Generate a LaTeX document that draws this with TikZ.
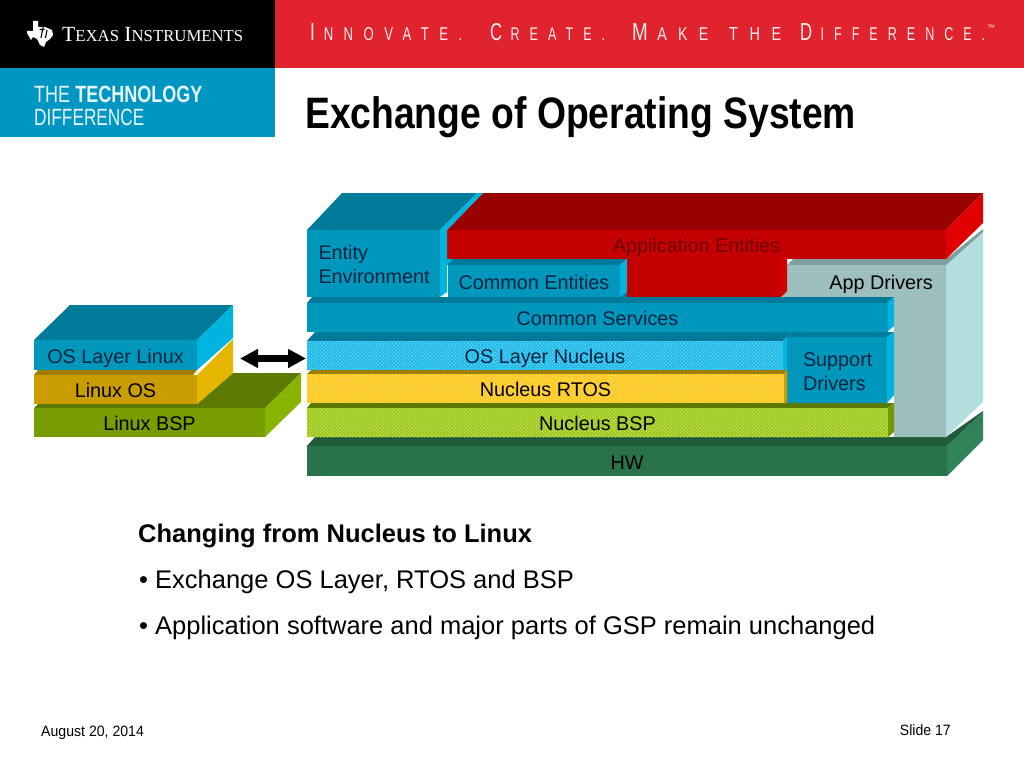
\documentclass[tikz,border=0pt]{standalone}
\usepackage{fontspec}
\usepackage{graphicx}
\setmainfont{Liberation Sans}
\newfontfamily\tiserif{Liberation Serif}
\newfontfamily\tagfont[LetterSpace=80]{Liberation Sans}
\usetikzlibrary{patterns,arrows.meta}
\pgfdeclarepatternformonly{bigdots}{\pgfqpoint{-1pt}{-1pt}}{\pgfqpoint{4.6pt}{4.6pt}}{\pgfqpoint{3.6pt}{3.6pt}}{%
  \pgfpathcircle{\pgfqpoint{0pt}{0pt}}{.85pt}\pgfpathcircle{\pgfqpoint{1.8pt}{1.8pt}}{.85pt}\pgfusepath{fill}}
\definecolor{tealF}{HTML}{0097BD}\definecolor{tealT}{HTML}{007A99}\definecolor{tealS}{HTML}{00B4E0}
\definecolor{redF}{HTML}{C40000}\definecolor{redT}{HTML}{990000}\definecolor{redS}{HTML}{E00000}
\definecolor{greyF}{HTML}{9DBFBF}\definecolor{greyT}{HTML}{7F9E9E}\definecolor{greyS}{HTML}{B3DEDE}
\definecolor{hwF}{HTML}{2A7249}\definecolor{hwT}{HTML}{215A3A}\definecolor{hwS}{HTML}{2F8358}
\definecolor{goldF}{HTML}{C99D00}\definecolor{goldT}{HTML}{A07C00}\definecolor{goldS}{HTML}{E5B600}
\definecolor{oliveF}{HTML}{779D00}\definecolor{oliveT}{HTML}{5C7A00}\definecolor{oliveS}{HTML}{88B300}
\definecolor{navy}{HTML}{04233F}\definecolor{blood}{HTML}{6E0006}
\definecolor{tiRed}{HTML}{E1232E}\definecolor{tiBlue}{HTML}{0096C4}
\definecolor{dotA}{HTML}{1CB8E8}\definecolor{dotAl}{HTML}{70D8F5}
\definecolor{dotB}{HTML}{FFC81E}\definecolor{dotBl}{HTML}{FFDD66}
\definecolor{dotC}{HTML}{9CC81E}\definecolor{dotCl}{HTML}{C8E060}
\tikzset{
  facebox/.style={inner sep=0pt,outer sep=0pt,text=black,font=\fontsize{19.8}{24}\selectfont},
  dotbox/.style 2 args={facebox,preaction={fill=#1},pattern=bigdots,pattern color=#2},
  bigarrow/.style={line width=6.5pt,{Triangle[length=18pt,width=18pt]}-{Triangle[length=18pt,width=18pt]}},
  bodytext/.style={anchor=west,inner sep=0pt,font=\fontsize{25.5}{30}\selectfont},
  foot/.style={inner sep=0pt,font=\fontsize{15}{18}\selectfont},
  tag/.style={anchor=west,inner sep=0pt,text=white!92!tiRed}
}
\newcommand{\Face}[7]{% name x1 y1 x2 y2 style text
  \pgfmathsetmacro{\cxx}{(#2+#4)/2}\pgfmathsetmacro{\cyy}{(#3+#5)/2}
  \pgfmathsetmacro{\www}{#4-#2}\pgfmathsetmacro{\hhh}{#5-#3}
  \node[facebox,minimum width=\www pt,minimum height=\hhh pt,#6] (#1) at (\cxx,\cyy) {\raisebox{-8.1pt}[0pt][0pt]{#7}};}
\newcommand{\Tg}[2]{{\fontsize{24}{24}\selectfont #1}\kern 12pt{\fontsize{18}{18}\selectfont #2}}
\begin{document}
\begin{tikzpicture}[x=1pt,y=-1pt]
\useasboundingbox (0,0) rectangle (1024,768);
\fill[white] (0,0) rectangle (1024,768);
% banner
\fill[black] (0,0) rectangle (275,68);
\fill[tiRed] (275,0) rectangle (1024,68);
\fill[tiBlue] (0,68) rectangle (275,137);
% TI logo
\fill[white] (33,21) -- (38,21) -- (38,27) -- (45,27) -- (52,30) -- (53,35) -- (50,39) -- (46,42) -- (44,47) -- (40,45) -- (37,39) -- (33,37) -- (31,40) -- (27,33) -- (27,31) -- (33,31) -- cycle;
\draw[black,line width=1.1pt] (43.5,25) -- (41,38) (39.5,29.5) -- (44.5,29.5) (47,30) -- (45.5,38);
% logo wordmark
\node[inner sep=0pt,anchor=base west,text=white] (tiname) at (62,42) {\resizebox{181pt}{!}{\tiserif\fontsize{20}{20}\selectfont T{\fontsize{15.5}{15.5}\selectfont EXAS} I{\fontsize{15.5}{15.5}\selectfont NSTRUMENTS}}};
\node[inner sep=0pt,anchor=base west,text=white!90!tiBlue] (techa) at (34,102) {\scalebox{.767}[1]{\fontsize{23.5}{23.5}\selectfont THE \textbf{TECHNOLOGY}}};
\node[inner sep=0pt,anchor=base west,text=white!90!tiBlue] (techb) at (34,125) {\scalebox{.734}[1]{\fontsize{23.5}{23.5}\selectfont DIFFERENCE}};
\node[tag,anchor=base west] (tagA) at (310,41) {\resizebox{152pt}{17pt}{\tagfont\Tg{I}{NNOVATE.}}};
\node[tag,anchor=base west] (tagB) at (490,41) {\resizebox{115pt}{17pt}{\tagfont\Tg{C}{REATE.}}};
\node[tag,anchor=base west] (tagC) at (632,41) {\resizebox{76pt}{17pt}{\tagfont\Tg{M}{AKE}}};
\node[tag,anchor=base west] (tagD) at (729,41) {\resizebox{52pt}{13pt}{\tagfont\fontsize{18}{18}\selectfont THE}};
\node[tag,anchor=base west] (tagE) at (800,41) {\resizebox{185pt}{17pt}{\tagfont\Tg{D}{IFFERENCE.}}};
\node[tag,anchor=base west] (tagF) at (987,31) {\fontsize{8}{8}\selectfont ™};
% title
\node[inner sep=0pt,anchor=base west] (title) at (305,128) {\scalebox{.847}[1]{\fontsize{44}{44}\selectfont\bfseries Exchange of Operating System}};
% ---- right stack
% HW
\fill[hwT] (307,446) -- (315,437) -- (946,437) -- (983,411) -- (983,412) -- (947,446) -- cycle;
\fill[hwS] (947,446) -- (983,412) -- (983,440) -- (947,476) -- cycle;
\Face{hw}{307}{446}{947}{476}{fill=hwF}{HW}
% App drivers
\fill[greyS] (946,265) -- (983,230) -- (983,402) -- (946,437) -- cycle;
\fill[greyT] (787,265) -- (793,259) -- (946,259) -- (983,229) -- (983,232) -- (946,265) -- cycle;
\fill[greyF] (782,265) -- (946,265) -- (946,437) -- (894,437) -- (894,297) -- (782,297) -- cycle;
\node[facebox] (appdrivers) at (881,284) {App Drivers};
% Application entities
\fill[redT] (447,230) -- (483,193) -- (983,193) -- (946,230) -- cycle;
\fill[redS] (946,230) -- (983,193) -- (983,223) -- (946,259) -- cycle;
\fill[tealT] (620,290) rectangle (630,297);
\Face{appent}{447}{230}{946}{259}{fill=redF,text=blood}{Application Entities}
\fill[redF] (627,259) rectangle (780,297);
\fill[redS!60!redF] (780,259) -- (787,259) -- (787,265) -- (787,291) -- (781,297) -- (780,297) -- cycle;
% Entity environment
\fill[tealT] (307,230) -- (342,193) -- (477,193) -- (440,230) -- cycle;
\fill[tealS] (440,230) -- (477,193) -- (483,193) -- (447,230) -- (447,292) -- (440,297) -- cycle;
\Face{entity}{307}{230}{440}{297}{fill=tealF,text=navy}{}
\node[facebox,text=navy,anchor=west,align=left] (entitytext) at (318.5,264.5) {Entity\\Environment};
% Common entities
\fill[tealS] (447,259) rectangle (453,265);
\fill[tealT] (447,265) -- (453,259) -- (627,259) -- (620,265) -- cycle;
\fill[tealS] (620,265) -- (627,259) -- (627,292) -- (620,297) -- cycle;
\Face{comment}{448}{265}{620}{297}{fill=tealF,text=navy}{Common Entities}
% Common services
\fill[tealT] (307,303) -- (312,297) -- (894,297) -- (887,303) -- cycle;
\fill[tealS] (887,303) -- (894,297) -- (894,326) -- (887,332) -- cycle;
\Face{comserv}{307}{303}{888}{332}{fill=tealF,text=navy}{Common Services}
% OS layer nucleus
\fill[tealT] (307,341) -- (315,332) -- (792,332) -- (783,341) -- cycle;
\fill[tealS] (783,341) -- (787,337) -- (787,370) -- (783,370) -- cycle;
\Face{osnucleus}{307}{341}{783}{370}{dotbox={dotA}{dotAl},text=navy}{OS Layer Nucleus}
% Support drivers
\fill[tealT] (787,337) -- (792,332) -- (894,332) -- (887,337) -- cycle;
\fill[tealS] (887,337) -- (894,332) -- (894,395) -- (887,403) -- cycle;
\Face{support}{787}{337}{887}{403}{fill=tealF,text=navy}{}
\node[facebox,text=navy,anchor=west,align=left] (supporttext) at (803,372) {Support\\Drivers};
% Nucleus RTOS
\fill[goldT] (307,374) -- (311,370) -- (787,370) -- (784,374) -- cycle;
\fill[goldF] (784,374) -- (787,370) -- (787,403) -- (784,403) -- cycle;
\Face{rtos}{307}{374}{784}{403}{dotbox={dotB}{dotBl}}{Nucleus RTOS}
% Nucleus BSP
\fill[oliveT] (307,408) -- (311,403) -- (894,403) -- (888,408) -- cycle;
\fill[oliveS!85!black] (888,408) -- (894,403) -- (894,432) -- (888,437) -- cycle;
\Face{nbsp}{307}{408}{888}{437}{dotbox={dotC}{dotCl}}{Nucleus BSP}
% ---- left stack
\fill[oliveT] (34,408) -- (38,404) -- (197,404) -- (233,373) -- (301,373) -- (265,408) -- cycle;
\fill[oliveS] (265,408) -- (301,373) -- (301,402) -- (265,437) -- cycle;
\Face{lbsp}{34}{408}{265}{437}{fill=oliveF}{Linux BSP}
\fill[goldT] (34,375) -- (38,370) -- (197,370) -- (193,375) -- cycle;
\fill[goldS] (197,375) -- (233,339) -- (233,373) -- (197,404) -- cycle;
\Face{los}{34}{375}{197}{404}{fill=goldF}{Linux OS}
\fill[tealT] (34,340) -- (70,305) -- (233,305) -- (197,340) -- cycle;
\fill[tealS] (197,340) -- (233,305) -- (233,338) -- (197,370) -- cycle;
\Face{oslinux}{34}{340}{197}{370}{fill=tealF,text=navy}{OS Layer Linux}
% exchange arrow
\draw[bigarrow,shorten <=43pt,shorten >=1pt] ([yshift=-3.5pt]oslinux.east) -- ([yshift=-3pt]osnucleus.west);
% body text
\node[bodytext] (bodya) at (138,535.5) {\textbf{Changing from Nucleus to Linux}};
\node[bodytext] (bodyb) at (139,581.5) {• Exchange OS Layer, RTOS and BSP};
\node[bodytext] (bodyc) at (139,627.5) {• Application software and major parts of GSP remain unchanged};
% footer
\node[foot,anchor=west] (date) at (41,733) {\scalebox{.94}[1]{August 20, 2014}};
\node[foot,anchor=east] (slide) at (951,730) {\scalebox{.94}[1]{Slide 17}};
\end{tikzpicture}
\end{document}
